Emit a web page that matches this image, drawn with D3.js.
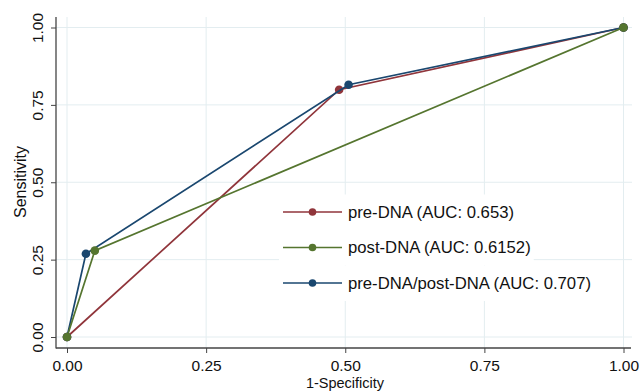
<!DOCTYPE html>
<html><head><meta charset="utf-8">
<script src="https://cdn.jsdelivr.net/npm/d3@7"></script>
<style>body{margin:0;background:#fff}svg{display:block}text{font-family:"Liberation Sans",Arial,sans-serif}</style>
</head><body><svg id="c" width="640" height="391"></svg>
<script>
const tickValues = [0, 0.25, 0.5, 0.75, 1];
const tickLabels = ["0.00", "0.25", "0.50", "0.75", "1.00"];
const seriesNames = ["pre-DNA (AUC: 0.653)", "post-DNA (AUC: 0.6152)", "pre-DNA/post-DNA (AUC: 0.707)"];
const seriesColors = ["#90353B", "#55752F", "#1A476F"];
const preDNA_x = [0, 0.489, 1];
const preDNA_y = [0, 0.799, 1];
const postDNA_x = [0, 0.050, 1];
const postDNA_y = [0, 0.279, 1];
const combo_x = [0, 0.034, 0.506, 1];
const combo_y = [0, 0.269, 0.815, 1];

const series = [
  {name: seriesNames[0], color: seriesColors[0], pts: preDNA_x.map((v,i)=>[v, preDNA_y[i]])},
  {name: seriesNames[1], color: seriesColors[1], pts: postDNA_x.map((v,i)=>[v, postDNA_y[i]])},
  {name: seriesNames[2], color: seriesColors[2], pts: combo_x.map((v,i)=>[v, combo_y[i]])}
];

const svg = d3.select("#c");
const x = d3.scaleLinear().domain([0,1]).range([67, 623.5]);
const y = d3.scaleLinear().domain([0,1]).range([337, 27.5]);
const axisX0 = 56, axisY0 = 348;

// grid
const g = svg.append("g");
tickValues.forEach(v => {
  g.append("line").attr("x1", axisX0).attr("x2", 632).attr("y1", y(v)).attr("y2", y(v))
    .attr("stroke", "#e3edf0").attr("stroke-width", 1);
  g.append("line").attr("x1", x(v)).attr("x2", x(v)).attr("y1", 17).attr("y2", axisY0)
    .attr("stroke", "#e3edf0").attr("stroke-width", 1);
});

// axes
const xAxis = d3.axisBottom(x).tickValues(tickValues).tickFormat((d,i)=>tickLabels[i]).tickSize(5).tickSizeOuter(0);
const yAxis = d3.axisLeft(y).tickValues(tickValues).tickFormat((d,i)=>tickLabels[i]).tickSize(5).tickSizeOuter(0);
const gx = svg.append("g").attr("transform", `translate(0,${axisY0})`).call(xAxis);
gx.select(".domain").remove();
gx.selectAll("line").attr("stroke", "#444");
gx.selectAll("text").attr("font-size", 15.5).attr("fill", "#111").attr("dy", null).attr("y", 22.5);
const gy = svg.append("g").attr("transform", `translate(${axisX0},0)`).call(yAxis);
gy.select(".domain").remove();
gy.selectAll("line").attr("stroke", "#444");
gy.selectAll("text").attr("font-size", 15.5).attr("fill", "#111")
  .attr("text-anchor", "middle").attr("dy", null).attr("x", null)
  .attr("transform", d => `translate(-13,0) rotate(-90)`).attr("y", 0).attr("dy", 0);
svg.append("line").attr("x1", axisX0).attr("x2", axisX0).attr("y1", 17).attr("y2", axisY0+0.5).attr("stroke", "#444").attr("stroke-width", 1.3);
svg.append("line").attr("x1", axisX0).attr("x2", 631).attr("y1", axisY0).attr("y2", axisY0).attr("stroke", "#444").attr("stroke-width", 1.3);

svg.append("text").attr("x", 345).attr("y", 387.5).attr("text-anchor", "middle").attr("font-size", 14.5).attr("fill", "#111").text("1-Specificity");
svg.append("text").attr("transform", "translate(26,182) rotate(-90)").attr("text-anchor", "middle").attr("font-size", 16).attr("fill", "#111").text("Sensitivity");

// lines
const line = d3.line().x(d=>x(d[0])).y(d=>y(d[1]));
[0,2,1].forEach(i => {
  const s = series[i];
  svg.append("path").attr("d", line(s.pts)).attr("fill", "none").attr("stroke", s.color).attr("stroke-width", 1.7);
  svg.selectAll(null).data(s.pts).enter().append("circle")
    .attr("cx", d=>x(d[0])).attr("cy", d=>y(d[1])).attr("r", 4.3).attr("fill", s.color);
});

// legend
const legY = [212, 247.5, 283];
const lg = svg.append("g");
series.forEach((s, i) => {
  const t = lg.append("text").attr("x", 348).attr("y", legY[i]).attr("dy", "0.35em")
    .attr("font-size", 16.7).attr("fill", "#111").text(s.name);
  const w = t.node().getComputedTextLength();
  lg.insert("rect", ":first-child").attr("x", 279).attr("y", legY[i]-17.5).attr("width", 348 + w + 3 - 279).attr("height", 35.5).attr("fill", "#fff");
  lg.append("line").attr("x1", 283).attr("x2", 342).attr("y1", legY[i]).attr("y2", legY[i]).attr("stroke", s.color).attr("stroke-width", 1.6);
  lg.append("circle").attr("cx", 312.5).attr("cy", legY[i]).attr("r", 3.8).attr("fill", s.color);
});
</script></body></html>
